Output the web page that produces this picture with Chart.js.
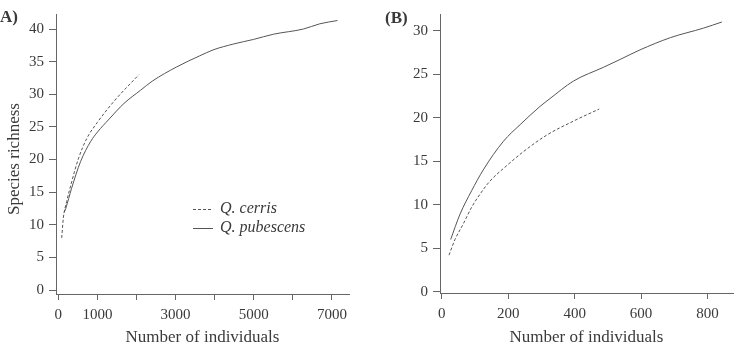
<!DOCTYPE html>
<html>
<head>
<meta charset="utf-8">
<script src="https://cdn.jsdelivr.net/npm/chart.js@4.4.0/dist/chart.umd.min.js"></script>
<style>
  html, body { margin: 0; padding: 0; background: #fff; }
  #wrap { position: relative; width: 741px; height: 346px; }
  canvas { position: absolute; top: 0; }
</style>
</head>
<body>
<div id="wrap">
  <canvas id="chartA" width="370" height="346" style="left:0"></canvas>
  <canvas id="chartB" width="371" height="346" style="left:370px"></canvas>
</div>
<script>
// Panel A
const cerrisXA = [87, 128, 215, 343, 512, 726, 1000, 1450, 2060];
const cerrisYA = [8.0, 11.0, 13.6, 16.6, 20.1, 23.2, 25.7, 29.1, 33.0];
const pubescensXA = [150, 190, 340, 570, 830, 1000, 1300, 1680, 2100, 2400, 3030, 3620, 3960, 4480, 4990, 5500, 6270, 6690, 7140];
const pubescensYA = [11.9, 12.5, 15.6, 19.7, 22.8, 24.2, 26.2, 28.6, 30.6, 32.0, 34.2, 35.9, 36.8, 37.7, 38.4, 39.2, 40.0, 40.8, 41.3];
const xTicksA = [0, 1000, 2000, 3000, 4000, 5000, 6000, 7000];
const xLabelsA = [0, 1000, 3000, 5000, 7000];
const yTicksA = [0, 5, 10, 15, 20, 25, 30, 35, 40];

// Panel B
const cerrisXB = [22, 40, 65, 90, 115, 145, 196, 246, 316, 396, 474];
const cerrisYB = [4.2, 6.0, 7.8, 9.7, 11.2, 12.7, 14.5, 16.1, 18.0, 19.6, 21.0];
const pubescensXB = [27, 55, 90, 125, 186, 236, 296, 326, 396, 487, 537, 597, 688, 788, 843];
const pubescensYB = [6.0, 8.9, 11.6, 14.0, 17.3, 19.2, 21.3, 22.2, 24.2, 25.8, 26.7, 27.8, 29.2, 30.3, 31.0];
const xTicksB = [0, 200, 400, 600, 800];
const yTicksB = [0, 5, 10, 15, 20, 25, 30];

const lineColor = '#555';
const axisColor = '#666';
const textColor = '#3a3a3a';
const serif = '"Liberation Serif", "DejaVu Serif", serif';

Chart.defaults.font.family = serif;
Chart.defaults.color = textColor;

function toPoints(xs, ys) {
  return xs.map((x, i) => ({ x: x, y: ys[i] }));
}

function makeDataset(label, xs, ys, dashed) {
  return {
    label: label,
    data: toPoints(xs, ys),
    borderColor: lineColor,
    borderWidth: 1,
    borderDash: dashed ? [3, 2] : [],
    pointRadius: 0,
    cubicInterpolationMode: 'monotone',
    fill: false
  };
}

// text that Chart.js can't place where the original has it
const annotate = {
  id: 'annotate',
  afterDraw(chart, args, opts) {
    const ctx = chart.ctx;
    ctx.save();
    ctx.fillStyle = textColor;
    ctx.textBaseline = 'middle';
    ctx.textAlign = 'left';
    ctx.font = 'bold 17px ' + serif;
    ctx.fillText(opts.panel, opts.panelX, opts.panelY);

    if (opts.yTitle) {
      ctx.save();
      ctx.translate(opts.yTitleX, opts.yTitleY);
      ctx.rotate(-Math.PI / 2);
      ctx.textAlign = 'center';
      ctx.font = '17px ' + serif;
      ctx.fillText(opts.yTitle, 0, 0);
      ctx.restore();
    }

    if (opts.legend) {
      const lg = opts.legend;
      chart.data.datasets.forEach((ds, i) => {
        const y = lg.y + i * lg.gap;
        ctx.beginPath();
        ctx.strokeStyle = ds.borderColor;
        ctx.lineWidth = 1;
        ctx.setLineDash(ds.borderDash);
        ctx.moveTo(lg.x, y + 0.5);
        ctx.lineTo(lg.x + lg.len, y + 0.5);
        ctx.stroke();
        ctx.setLineDash([]);
        ctx.font = 'italic 16px ' + serif;
        ctx.fillText(ds.label, lg.textX, y);
      });
    }
    ctx.restore();
  }
};

function makeChart(id, cfg) {
  const ctx = document.getElementById(id).getContext('2d');
  return new Chart(ctx, {
    type: 'line',
    data: {
      datasets: [
        makeDataset('Q. cerris', cfg.cerrisX, cfg.cerrisY, true),
        makeDataset('Q. pubescens', cfg.pubescensX, cfg.pubescensY, false)
      ]
    },
    options: {
      responsive: false,
      animation: false,
      layout: { padding: cfg.padding },
      plugins: {
        legend: { display: false },
        tooltip: { enabled: false },
        annotate: cfg.annotate
      },
      scales: {
        x: {
          type: 'linear',
          min: cfg.xMin,
          max: cfg.xMax,
          afterBuildTicks: scale => { scale.ticks = cfg.xTicks.map(v => ({ value: v })); },
          afterFit: scale => { scale.height = cfg.xHeight; },
          grid: { drawOnChartArea: false, drawTicks: true, tickLength: 6, color: axisColor },
          border: { display: true, color: axisColor, width: 1 },
          ticks: {
            autoSkip: false,
            maxRotation: 0,
            padding: 6,
            font: { size: 15 },
            callback: v => cfg.xLabels.includes(v) ? String(v) : ''
          },
          title: {
            display: true,
            text: 'Number of individuals',
            font: { size: 17, lineHeight: 1 },
            padding: { top: 0, bottom: 0 }
          }
        },
        y: {
          type: 'linear',
          min: cfg.yMin,
          max: cfg.yMax,
          afterBuildTicks: scale => { scale.ticks = cfg.yTicks.map(v => ({ value: v })); },
          afterFit: scale => { scale.width = cfg.yWidth; },
          grid: { drawOnChartArea: false, drawTicks: true, tickLength: 7, color: axisColor },
          border: { display: true, color: axisColor, width: 1 },
          ticks: { padding: 5, font: { size: 15 } }
        }
      }
    },
    plugins: [annotate]
  });
}

makeChart('chartA', {
  cerrisX: cerrisXA, cerrisY: cerrisYA,
  pubescensX: pubescensXA, pubescensY: pubescensYA,
  xTicks: xTicksA, xLabels: xLabelsA, yTicks: yTicksA,
  xMin: -59, xMax: 7435, yMin: -0.6, yMax: 42.3,
  xHeight: 52, yWidth: 56,
  padding: { left: 0, top: 9, right: 21, bottom: 0 },
  annotate: {
    panel: 'A)', panelX: 0, panelY: 18,
    yTitle: 'Species richness', yTitleX: 15, yTitleY: 159,
    legend: { x: 193, len: 20, textX: 220, y: 209, gap: 19 }
  }
});

makeChart('chartB', {
  cerrisX: cerrisXB, cerrisY: cerrisYB,
  pubescensX: pubescensXB, pubescensY: pubescensYB,
  xTicks: xTicksB, xLabels: xTicksB, yTicks: yTicksB,
  xMin: -5.1, xMax: 876.5, yMin: -0.15, yMax: 31.92,
  xHeight: 53, yWidth: 70,
  padding: { left: 0, top: 9, right: 8, bottom: 0 },
  annotate: { panel: '(B)', panelX: 15, panelY: 19 }
});
</script>
</body>
</html>
